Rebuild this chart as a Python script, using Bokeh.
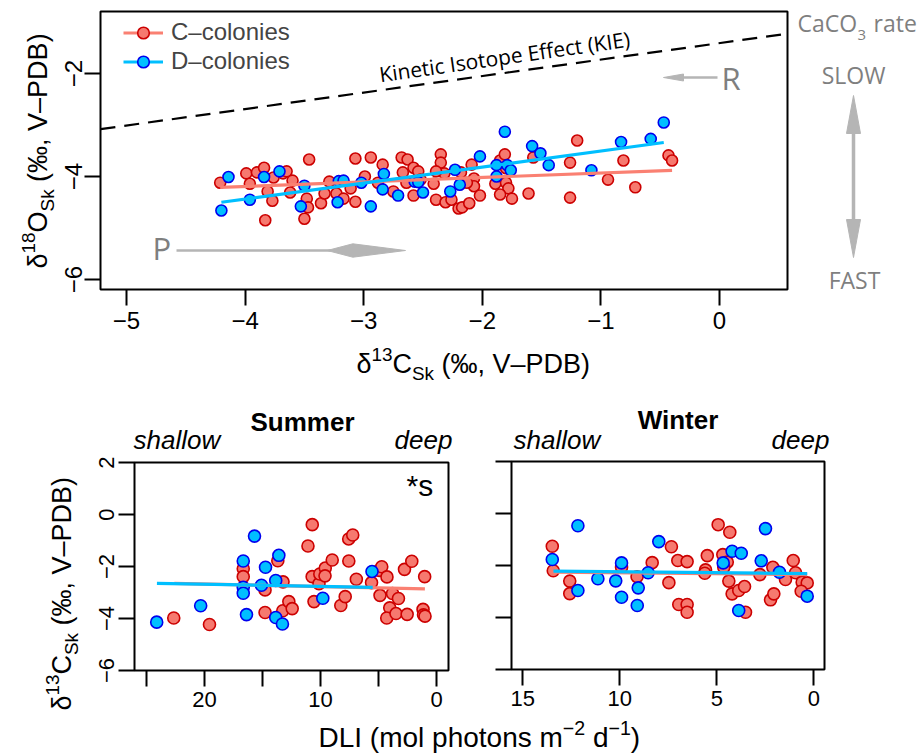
import math
from bokeh.plotting import figure
from bokeh.models import (Range1d, FixedTicker, Label, Legend, LegendItem,
                          Arrow, PolyAnnotation, BoxAnnotation, LinearAxis)
from bokeh.embed import file_html
from bokeh.resources import INLINE

# ---------------- data ----------------
# top panel: d13C vs d18O
top_c_d13c = [-4.21,-3.99,-3.96,-3.90,-3.84,-3.76,-3.81,-3.77,-3.83,-3.68,
              -3.65,-3.60,-3.62,-3.48,-3.47,-3.50,-3.46,-3.36,-3.33,-3.29,
              -3.23,-3.17,-3.11,-3.07,-3.07,-2.99,-2.94,-2.84,-2.88,-2.75,
              -2.68,-2.63,-2.67,-2.58,-2.54,-2.64,-2.58,-2.41,-2.39,-2.35,
              -2.35,-2.32,-2.31,-2.26,-2.20,-2.17,-2.11,-2.18,-2.09,-2.07,
              -2.07,-2.02,-1.89,-1.85,-1.81,-1.80,-1.80,-1.78,-1.85,-1.75,
              -1.61,-1.57,-1.26,-1.26,-1.20,-0.94,-0.81,-0.71,-0.43,-0.40,
              -2.52,-2.39,-2.13]
top_c_d18o = [-4.12,-3.94,-4.14,-3.92,-3.83,-4.02,-4.29,-4.47,-4.85,-3.94,
              -3.90,-4.08,-4.31,-4.43,-4.60,-4.82,-3.67,-4.52,-4.33,-4.10,
              -4.33,-4.43,-4.23,-4.49,-3.65,-4.00,-3.63,-3.77,-4.12,-4.29,
              -3.63,-3.67,-3.92,-3.83,-3.90,-4.12,-4.37,-4.14,-4.45,-3.57,
              -3.73,-3.94,-4.50,-4.45,-4.62,-4.60,-4.52,-3.92,-3.77,-4.04,
              -4.19,-4.37,-4.14,-3.69,-3.57,-3.84,-4.12,-4.23,-4.35,-4.43,
              -4.33,-3.63,-3.73,-4.41,-3.30,-4.06,-3.69,-4.21,-3.59,-3.69,
              -4.06,-3.90,-4.12]
top_d_d13c = [-4.20,-4.14,-3.96,-3.84,-3.71,-3.50,-3.53,-3.21,-3.17,-3.22,
              -3.02,-2.94,-2.83,-2.84,-2.71,-2.57,-2.54,-2.50,-2.27,-2.23,
              -2.19,-2.02,-1.88,-1.88,-1.81,-1.79,-1.76,-1.58,-1.51,-1.44,
              -1.08,-0.83,-0.58,-0.47]
top_d_d18o = [-4.66,-4.01,-4.45,-4.01,-3.90,-4.18,-4.58,-4.09,-4.08,-4.50,
              -4.12,-4.58,-3.95,-4.25,-4.37,-4.10,-4.11,-4.31,-4.29,-3.87,
              -4.16,-3.61,-3.78,-4.00,-3.13,-3.78,-3.88,-3.41,-3.55,-3.78,
              -3.88,-3.33,-3.27,-2.95]
top_c_fit_x = [-4.21, -0.40]; top_c_fit_coef = [-3.845, 0.087]
top_d_fit_x = [-4.20, -0.47]; top_d_fit_coef = [-3.194, 0.311]
kie_coef = [-1.41, 0.32]

# Summer: DLI vs d13C
sum_c_dli = [22.65,19.57,16.66,16.66,14.78,14.78,13.68,13.23,13.25,12.73,
             12.44,11.08,10.71,10.72,10.56,10.13,10.06,9.59,9.61,8.99,
             8.25,7.87,7.57,7.22,7.56,6.91,5.60,4.87,4.94,4.72,
             4.27,3.79,3.28,4.03,4.29,3.49,2.76,2.13,2.53,1.02,
             1.16,1.12,0.99]
sum_c_d13c = [-3.98,-4.23,-2.09,-2.39,-2.90,-3.77,-1.78,-2.59,-3.70,-3.35,
              -3.62,-1.21,-0.39,-2.39,-3.35,-2.66,-2.29,-2.06,-2.36,-1.75,
              -3.50,-3.16,-0.94,-0.79,-1.79,-2.49,-2.62,-3.11,-2.15,-2.01,
              -2.40,-3.04,-3.23,-3.59,-3.98,-3.81,-2.11,-1.80,-3.84,-2.39,
              -3.65,-3.86,-3.91]
sum_d_dli = [24.12,20.33,16.66,16.66,16.66,16.38,15.69,14.74,15.09,13.86,
             13.59,13.86,13.28,9.80,5.56]
sum_d_d13c = [-4.14,-3.51,-1.79,-2.80,-3.03,-3.85,-0.83,-2.03,-2.72,-2.54,
              -1.57,-3.96,-4.21,-3.22,-2.19]
sum_c_fit_x = [22.6, 1.0]; sum_c_fit_coef = [-2.87, 0.0097]
sum_d_fit_x = [24.1, 5.5]; sum_d_fit_coef = [-2.845, 0.0081]

# Winter: DLI vs d13C
win_c_dli = [13.48,13.43,12.58,12.58,9.91,9.11,8.33,7.47,7.34,7.01,
             6.53,6.96,6.53,6.53,5.49,5.58,5.62,4.93,4.33,4.69,
             4.46,4.64,4.38,4.21,3.87,3.57,3.52,2.78,2.11,2.23,
             2.06,1.46,1.06,0.94,0.60,0.34,0.65]
win_c_d13c = [-1.26,-2.20,-2.60,-3.08,-2.07,-2.43,-1.89,-2.66,-1.28,-1.81,
              -1.85,-3.50,-3.50,-3.80,-1.62,-2.17,-2.30,-0.43,-0.72,-1.58,
              -1.87,-2.07,-2.60,-3.09,-2.96,-2.81,-3.80,-2.35,-2.07,-3.32,
              -3.09,-2.54,-1.81,-2.28,-2.64,-2.67,-2.99]
win_d_dli = [13.48,12.16,12.16,11.13,10.21,9.91,9.91,9.05,9.10,8.54,
             7.99,4.67,4.21,3.74,3.87,2.71,2.49,1.77,0.34]
win_d_d13c = [-1.77,-0.47,-2.96,-2.51,-2.59,-1.90,-3.22,-2.86,-3.54,-2.28,
              -1.08,-1.90,-1.45,-1.53,-3.73,-1.82,-0.58,-2.26,-3.18]
win_c_fit_x = [13.42, 0.34]; win_c_fit_coef = [-2.352, 0.0069]
win_d_fit_x = [13.42, 0.34]; win_d_fit_coef = [-2.312, 0.0069]

top_xticks = [-5, -4, -3, -2, -1, 0]
top_xlabels = ["\u22125", "\u22124", "\u22123", "\u22122", "\u22121", "0"]
top_yticks = [-6, -4, -2]
top_ylabels = ["\u22126", "\u22124", "\u22122"]
sum_xticks = [25, 20, 15, 10, 5, 0]
sum_xlabels = ["", "20", "", "10", "", "0"]
win_xticks = [15, 10, 5, 0]
win_xlabels = ["15", "10", "5", "0"]
bot_yticks = [2, 0, -2, -4, -6]
bot_ylabels = ["2", "0", "\u22122", "\u22124", "\u22126"]

# ---------------- style ----------------
RFONT = "Liberation Sans"
AFONT = "Open Sans"
RED_FILL, RED_EDGE = "#F6796F", "#CC0000"
BLUE_FILL, BLUE_EDGE = "#00BFFF", "#0000EE"
RED_LINE, BLUE_LINE = "#FA8072", "#00BFFF"
GRAY_TXT, GRAY_SHAPE = "#7F7F7F", "#B5B5B5"
W, H = 917, 753

AW = {' ': 278, '(': 333, ')': 333, ',': 278, '\u2030': 1000, '\u03b4': 556,
      '\u2013': 556, '\u2212': 584, 'A': 667, 'B': 667, 'C': 722, 'D': 722,
      'E': 667, 'I': 278, 'K': 667, 'L': 556, 'O': 778, 'P': 667, 'S': 667,
      'V': 667, 'a': 556, 'c': 500, 'd': 556, 'e': 556, 'h': 556, 'i': 222,
      'k': 500, 'l': 222, 'm': 833, 'n': 556, 'o': 556, 'p': 556, 'r': 333,
      's': 500, 't': 278, 'w': 722}


def tw(s, size):
    return sum(AW.get(ch, 556) for ch in s) / 1000.0 * size


# pixel calibration of each panel (page pixels -> data)
def tX(px): return -5 + (px - 126) / 118.6
def tY(py): return -2 - (py - 73) / 51.5
def sX(px): return (436 - px) / 11.6
def sY(py): return 2 - (py - 462) / 26.0
def wX(px): return (813.3 - px) / 19.4
def wY(py): return 2 - (py - 461) / 26.0


top_box = (100, 11, 787, 289)
sum_box = (134, 462, 448, 670)
win_box = (511, 461, 824, 669)
top_xlim = [tX(top_box[0]), tX(top_box[2])]

# one canvas; default ranges are page pixels (y downwards)
p = figure(width=W, height=H, x_range=Range1d(0, W), y_range=Range1d(H, 0),
           title=None, output_backend="svg", toolbar_location=None,
           x_axis_type=None, y_axis_type=None, min_border=0)
p.outline_line_color = None
p.background_fill_color = "white"
p.border_fill_color = "white"
p.extra_x_ranges = {"top": Range1d(tX(0), tX(W)), "sum": Range1d(sX(0), sX(W)),
                    "win": Range1d(wX(0), wX(W))}
p.extra_y_ranges = {"top": Range1d(tY(H), tY(0)), "sum": Range1d(sY(H), sY(0)),
                    "win": Range1d(wY(H), wY(0))}

LIB_K, OS_K = 0.3465, 0.388


def label(txt, px, py, size, font=RFONT, color="black", align="left",
          style="normal", angle=0.0):
    d = (OS_K if font == AFONT else LIB_K) * size
    ax = px - d * math.sin(angle)
    ay = py - d * math.cos(angle)
    p.add_layout(Label(x=ax, y=ay, text=txt, text_font=font,
                       text_font_size=f"{size:.1f}px", text_color=color,
                       text_align=align, text_font_style=style,
                       text_baseline="alphabetic", angle=angle))


def rich(pieces, px, py, size, angle=0.0):
    pos = 0.0
    ca, sa = math.cos(angle), math.sin(angle)
    for txt, kind in pieces:
        if kind == "sup":
            s, off = 0.7 * size, 0.45 * size
        elif kind == "sub":
            s, off = 0.7 * size, -0.25 * size
        else:
            s, off = size, 0.0
        core = txt.lstrip(" ")
        pos += tw(txt[:len(txt) - len(core)], s)   # leading blanks as advance
        gx = px + pos * ca - off * sa
        gy = py - pos * sa - off * ca
        label(core, gx, gy, s, angle=angle)
        pos += tw(core, s)


def add_axes(name, box, xt, xl, yt, yl, size, xstand, ystand):
    X = {"top": tX, "sum": sX, "win": wX}[name]
    Y = {"top": tY, "sum": sY, "win": wY}[name]
    xa = LinearAxis(x_range_name=name, y_range_name=name, fixed_location=Y(box[3]),
                    ticker=FixedTicker(ticks=xt),
                    major_label_overrides=dict(zip(xt, xl)))
    ya = LinearAxis(x_range_name=name, y_range_name=name, fixed_location=X(box[0]),
                    ticker=FixedTicker(ticks=yt),
                    major_label_overrides=dict(zip(yt, yl)))
    for ax in (xa, ya):
        ax.major_tick_out = 16
        ax.major_tick_in = 0
        ax.major_tick_line_width = 2
        ax.major_tick_line_color = "black"
        ax.minor_tick_line_color = None
        ax.axis_line_color = None
        ax.major_label_text_font = RFONT
        ax.major_label_text_font_size = size
        ax.major_label_text_color = "black"
    xa.major_label_standoff = xstand
    ya.major_label_standoff = ystand
    ya.major_label_orientation = "vertical"
    p.add_layout(xa, "below")
    p.add_layout(ya, "left")
    p.add_layout(BoxAnnotation(left=box[0], right=box[2], top=box[1], bottom=box[3],
                               fill_alpha=0, fill_color=None, line_color="black",
                               line_width=2, line_alpha=1))


def scatter_pair(name, cx, cy, dx, dy, size):
    rc = p.scatter(cx, cy, size=size, fill_color=RED_FILL, line_color=RED_EDGE,
                   line_width=1.6, x_range_name=name, y_range_name=name)
    rd = p.scatter(dx, dy, size=size, fill_color=BLUE_FILL, line_color=BLUE_EDGE,
                   line_width=1.6, x_range_name=name, y_range_name=name)
    return rc, rd


def fit_line(name, xs, coef, color):
    ys = [coef[0] + coef[1] * x for x in xs]
    return p.line(xs, ys, line_color=color, line_width=3.2,
                  x_range_name=name, y_range_name=name)


def poly(pts, color):
    p.add_layout(PolyAnnotation(xs=[a for a, b in pts], ys=[b for a, b in pts],
                                fill_color=color, fill_alpha=1, line_color=color,
                                line_alpha=1, line_width=1))


def seg(x0, y0, x1, y1, color, width):
    p.add_layout(Arrow(x_start=x0, y_start=y0, x_end=x1, y_end=y1, start=None,
                       end=None, line_color=color, line_width=width))


# ---------------- top panel ----------------
kie_y = [kie_coef[0] + kie_coef[1] * x for x in top_xlim]
p.line(top_xlim, kie_y, line_color="black", line_width=2.2, line_dash="15 9",
       x_range_name="top", y_range_name="top")
rc, rd = scatter_pair("top", top_c_d13c, top_c_d18o, top_d_d13c, top_d_d18o, 11)
lc = fit_line("top", top_c_fit_x, top_c_fit_coef, RED_LINE)
ld = fit_line("top", top_d_fit_x, top_d_fit_coef, BLUE_LINE)
add_axes("top", top_box, top_xticks, top_xlabels, top_yticks, top_ylabels,
         "24px", 6, 3)

legend = Legend(items=[LegendItem(label="C\u2013colonies", renderers=[lc, rc]),
                       LegendItem(label="D\u2013colonies", renderers=[ld, rd])],
                location=(123, H - 75.5), margin=0, padding=0, spacing=0,
                glyph_width=40, glyph_height=29, label_height=29,
                label_standoff=8, label_text_font=RFONT,
                label_text_font_size="24px", border_line_color=None,
                background_fill_alpha=0)
p.add_layout(legend)

label("Kinetic Isotope Effect (KIE)", 380, 82, 21, font=AFONT, angle=0.142)

# P arrow
seg(176, 250, 330, 250, GRAY_SHAPE, 2.5)
poly([(326.7, 250), (352.3, 243.3), (405, 250), (352.3, 256.7)], GRAY_SHAPE)
label("P", 152, 260, 31, font=AFONT, color=GRAY_TXT)
# R arrow
seg(681, 77, 717, 77, GRAY_SHAPE, 2.5)
poly([(663, 77), (683, 73.5), (683, 80.5)], GRAY_SHAPE)
label("R", 721, 90, 31, font=AFONT, color=GRAY_TXT)

# CaCO3 rate, SLOW / FAST
label("CaCO", 797, 31, 23, font=AFONT, color=GRAY_TXT)
label("3", 857, 40, 15, font=AFONT, color=GRAY_TXT)
label("rate", 873, 31, 23, font=AFONT, color=GRAY_TXT)
label("SLOW", 853, 83.5, 23, font=AFONT, color=GRAY_TXT, align="center")
label("FAST", 854, 288, 23, font=AFONT, color=GRAY_TXT, align="center")
seg(853, 128, 853, 224, GRAY_SHAPE, 3.5)
poly([(853, 95), (846, 133), (860, 133)], GRAY_SHAPE)
poly([(853, 257), (846, 219), (860, 219)], GRAY_SHAPE)

rich([("\u03b4", "n"), ("13", "sup"), ("C", "n"), ("Sk", "sub"),
      (" (\u2030, V\u2013PDB)", "n")], 356, 373, 27)
rich([("\u03b4", "n"), ("18", "sup"), ("O", "n"), ("Sk", "sub"),
      (" (\u2030, V\u2013PDB)", "n")], 47, 268, 27, angle=math.pi / 2)

# ---------------- summer panel ----------------
scatter_pair("sum", sum_c_dli, sum_c_d13c, sum_d_dli, sum_d_d13c, 12)
fit_line("sum", sum_c_fit_x, sum_c_fit_coef, RED_LINE)
fit_line("sum", sum_d_fit_x, sum_d_fit_coef, BLUE_LINE)
add_axes("sum", sum_box, sum_xticks, sum_xlabels, bot_yticks, bot_ylabels,
         "22px", 5, 5)
label("Summer", 302, 431, 26, style="bold", align="center")
label("shallow", 133, 449, 26, style="italic")
label("deep", 394, 449, 26, style="italic")
label("*s", 406, 495, 30)
rich([("\u03b4", "n"), ("13", "sup"), ("C", "n"), ("Sk", "sub"),
      (" (\u2030, V\u2013PDB)", "n")], 71, 710, 27, angle=math.pi / 2)

# ---------------- winter panel ----------------
scatter_pair("win", win_c_dli, win_c_d13c, win_d_dli, win_d_d13c, 12)
fit_line("win", win_c_fit_x, win_c_fit_coef, RED_LINE)
fit_line("win", win_d_fit_x, win_d_fit_coef, BLUE_LINE)
add_axes("win", win_box, win_xticks, win_xlabels, bot_yticks, [""] * 5,
         "22px", 5, 5)
label("Winter", 677.5, 429, 26, style="bold", align="center")
label("shallow", 513, 449, 26, style="italic")
label("deep", 771, 449, 26, style="italic")

# shared x label
rich([("DLI (mol photons m", "n"), ("\u22122", "sup"), (" d", "n"),
      ("\u22121", "sup"), (")", "n")], 318, 746.7, 28)

open("out.html", "w").write(file_html(p, INLINE))
